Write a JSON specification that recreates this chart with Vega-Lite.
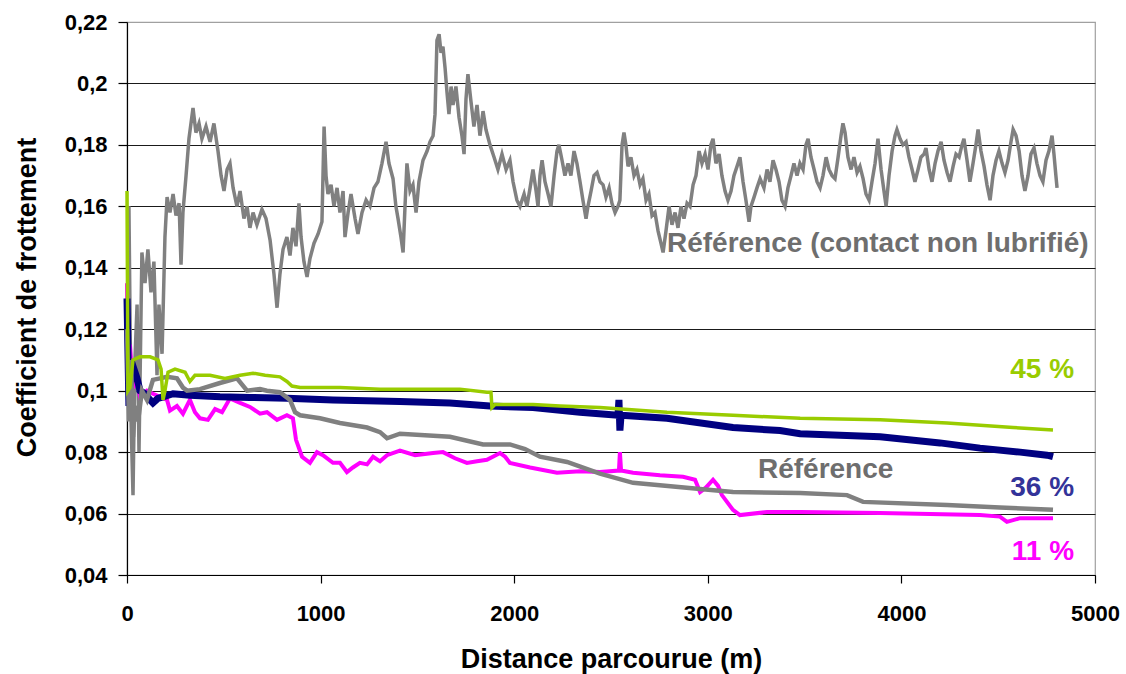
{
  "$schema": "https://vega.github.io/schema/vega-lite/v6.json",
  "width": 968,
  "height": 553,
  "autosize": {"type": "none"},
  "padding": {"left": 127, "top": 22, "right": 31, "bottom": 99},
  "background": "white",
  "config": {
    "view": {"stroke": "#a0a0a0", "strokeWidth": 1.2},
    "font": "Liberation Sans"
  },
  "datasets": {
    "labels": [
      {"s": "u", "d": 2789, "v": 0.1451, "t": "Référence (contact non lubrifié)", "a": "left"},
      {"s": "r", "d": 3259, "v": 0.0716, "t": "Référence", "a": "left"},
      {"s": "g", "d": 4892, "v": 0.1041, "t": "45 %", "a": "right"},
      {"s": "n", "d": 4892, "v": 0.0657, "t": "36 %", "a": "right"},
      {"s": "m", "d": 4892, "v": 0.0449, "t": "11 %", "a": "right"}
    ],
    "lines": [
      {"s":"u","d":0,"v":0.150},{"s":"u","d":5,"v":0.105},{"s":"u","d":10,"v":0.160},{"s":"u","d":21,"v":0.090},{"s":"u","d":31,"v":0.066},{"s":"u","d":41,"v":0.110},{"s":"u","d":52,"v":0.128},{"s":"u","d":62,"v":0.080},{"s":"u","d":77,"v":0.145},{"s":"u","d":93,"v":0.135},{"s":"u","d":108,"v":0.146},{"s":"u","d":124,"v":0.132},{"s":"u","d":139,"v":0.142},{"s":"u","d":155,"v":0.105},{"s":"u","d":165,"v":0.128},{"s":"u","d":181,"v":0.112},{"s":"u","d":196,"v":0.150},{"s":"u","d":207,"v":0.163},{"s":"u","d":222,"v":0.158},{"s":"u","d":238,"v":0.164},{"s":"u","d":253,"v":0.157},{"s":"u","d":269,"v":0.161},{"s":"u","d":279,"v":0.141},{"s":"u","d":289,"v":0.158},{"s":"u","d":305,"v":0.170},{"s":"u","d":320,"v":0.182},{"s":"u","d":341,"v":0.192},{"s":"u","d":356,"v":0.184},{"s":"u","d":372,"v":0.187},{"s":"u","d":387,"v":0.182},{"s":"u","d":408,"v":0.186},{"s":"u","d":429,"v":0.181},{"s":"u","d":449,"v":0.187},{"s":"u","d":470,"v":0.178},{"s":"u","d":486,"v":0.170},{"s":"u","d":501,"v":0.165},{"s":"u","d":517,"v":0.172},{"s":"u","d":532,"v":0.174},{"s":"u","d":548,"v":0.166},{"s":"u","d":568,"v":0.160},{"s":"u","d":584,"v":0.165},{"s":"u","d":604,"v":0.156},{"s":"u","d":620,"v":0.160},{"s":"u","d":635,"v":0.153},{"s":"u","d":651,"v":0.158},{"s":"u","d":671,"v":0.154},{"s":"u","d":697,"v":0.159},{"s":"u","d":718,"v":0.156},{"s":"u","d":739,"v":0.149},{"s":"u","d":759,"v":0.138},{"s":"u","d":775,"v":0.127},{"s":"u","d":790,"v":0.138},{"s":"u","d":806,"v":0.146},{"s":"u","d":826,"v":0.150},{"s":"u","d":842,"v":0.144},{"s":"u","d":857,"v":0.153},{"s":"u","d":873,"v":0.147},{"s":"u","d":888,"v":0.161},{"s":"u","d":899,"v":0.150},{"s":"u","d":914,"v":0.142},{"s":"u","d":930,"v":0.137},{"s":"u","d":945,"v":0.143},{"s":"u","d":966,"v":0.148},{"s":"u","d":987,"v":0.151},{"s":"u","d":1007,"v":0.155},{"s":"u","d":1018,"v":0.186},{"s":"u","d":1028,"v":0.170},{"s":"u","d":1038,"v":0.164},{"s":"u","d":1054,"v":0.167},{"s":"u","d":1069,"v":0.160},{"s":"u","d":1085,"v":0.166},{"s":"u","d":1100,"v":0.158},{"s":"u","d":1116,"v":0.165},{"s":"u","d":1126,"v":0.150},{"s":"u","d":1142,"v":0.158},{"s":"u","d":1157,"v":0.164},{"s":"u","d":1178,"v":0.156},{"s":"u","d":1193,"v":0.151},{"s":"u","d":1214,"v":0.158},{"s":"u","d":1235,"v":0.162},{"s":"u","d":1255,"v":0.160},{"s":"u","d":1276,"v":0.166},{"s":"u","d":1296,"v":0.168},{"s":"u","d":1317,"v":0.174},{"s":"u","d":1338,"v":0.181},{"s":"u","d":1353,"v":0.174},{"s":"u","d":1374,"v":0.169},{"s":"u","d":1389,"v":0.160},{"s":"u","d":1400,"v":0.156},{"s":"u","d":1415,"v":0.150},{"s":"u","d":1426,"v":0.145},{"s":"u","d":1436,"v":0.160},{"s":"u","d":1446,"v":0.174},{"s":"u","d":1462,"v":0.165},{"s":"u","d":1477,"v":0.167},{"s":"u","d":1493,"v":0.158},{"s":"u","d":1508,"v":0.168},{"s":"u","d":1529,"v":0.175},{"s":"u","d":1550,"v":0.178},{"s":"u","d":1565,"v":0.181},{"s":"u","d":1581,"v":0.183},{"s":"u","d":1591,"v":0.190},{"s":"u","d":1601,"v":0.214},{"s":"u","d":1612,"v":0.216},{"s":"u","d":1622,"v":0.210},{"s":"u","d":1632,"v":0.212},{"s":"u","d":1643,"v":0.205},{"s":"u","d":1653,"v":0.197},{"s":"u","d":1663,"v":0.190},{"s":"u","d":1674,"v":0.199},{"s":"u","d":1684,"v":0.193},{"s":"u","d":1699,"v":0.199},{"s":"u","d":1715,"v":0.189},{"s":"u","d":1730,"v":0.183},{"s":"u","d":1741,"v":0.177},{"s":"u","d":1751,"v":0.195},{"s":"u","d":1761,"v":0.203},{"s":"u","d":1777,"v":0.194},{"s":"u","d":1792,"v":0.186},{"s":"u","d":1808,"v":0.193},{"s":"u","d":1823,"v":0.183},{"s":"u","d":1839,"v":0.191},{"s":"u","d":1854,"v":0.185},{"s":"u","d":1875,"v":0.180},{"s":"u","d":1896,"v":0.176},{"s":"u","d":1916,"v":0.172},{"s":"u","d":1937,"v":0.177},{"s":"u","d":1958,"v":0.172},{"s":"u","d":1978,"v":0.175},{"s":"u","d":1994,"v":0.168},{"s":"u","d":2014,"v":0.162},{"s":"u","d":2030,"v":0.160},{"s":"u","d":2051,"v":0.164},{"s":"u","d":2066,"v":0.160},{"s":"u","d":2082,"v":0.166},{"s":"u","d":2097,"v":0.172},{"s":"u","d":2113,"v":0.165},{"s":"u","d":2123,"v":0.160},{"s":"u","d":2133,"v":0.170},{"s":"u","d":2144,"v":0.175},{"s":"u","d":2159,"v":0.168},{"s":"u","d":2175,"v":0.164},{"s":"u","d":2190,"v":0.160},{"s":"u","d":2206,"v":0.170},{"s":"u","d":2221,"v":0.178},{"s":"u","d":2231,"v":0.180},{"s":"u","d":2247,"v":0.175},{"s":"u","d":2262,"v":0.170},{"s":"u","d":2278,"v":0.174},{"s":"u","d":2293,"v":0.170},{"s":"u","d":2309,"v":0.178},{"s":"u","d":2324,"v":0.174},{"s":"u","d":2340,"v":0.168},{"s":"u","d":2355,"v":0.162},{"s":"u","d":2371,"v":0.156},{"s":"u","d":2381,"v":0.160},{"s":"u","d":2397,"v":0.165},{"s":"u","d":2412,"v":0.170},{"s":"u","d":2428,"v":0.171},{"s":"u","d":2443,"v":0.168},{"s":"u","d":2459,"v":0.167},{"s":"u","d":2474,"v":0.163},{"s":"u","d":2490,"v":0.166},{"s":"u","d":2505,"v":0.161},{"s":"u","d":2521,"v":0.158},{"s":"u","d":2536,"v":0.160},{"s":"u","d":2546,"v":0.162},{"s":"u","d":2557,"v":0.180},{"s":"u","d":2567,"v":0.184},{"s":"u","d":2577,"v":0.180},{"s":"u","d":2588,"v":0.173},{"s":"u","d":2603,"v":0.176},{"s":"u","d":2619,"v":0.170},{"s":"u","d":2634,"v":0.172},{"s":"u","d":2650,"v":0.167},{"s":"u","d":2665,"v":0.169},{"s":"u","d":2681,"v":0.162},{"s":"u","d":2696,"v":0.164},{"s":"u","d":2712,"v":0.157},{"s":"u","d":2727,"v":0.158},{"s":"u","d":2743,"v":0.152},{"s":"u","d":2758,"v":0.148},{"s":"u","d":2769,"v":0.145},{"s":"u","d":2784,"v":0.152},{"s":"u","d":2800,"v":0.160},{"s":"u","d":2815,"v":0.154},{"s":"u","d":2831,"v":0.158},{"s":"u","d":2846,"v":0.153},{"s":"u","d":2862,"v":0.160},{"s":"u","d":2877,"v":0.156},{"s":"u","d":2893,"v":0.161},{"s":"u","d":2908,"v":0.160},{"s":"u","d":2924,"v":0.167},{"s":"u","d":2939,"v":0.170},{"s":"u","d":2955,"v":0.178},{"s":"u","d":2970,"v":0.174},{"s":"u","d":2986,"v":0.177},{"s":"u","d":3001,"v":0.172},{"s":"u","d":3016,"v":0.180},{"s":"u","d":3027,"v":0.182},{"s":"u","d":3042,"v":0.174},{"s":"u","d":3058,"v":0.177},{"s":"u","d":3073,"v":0.170},{"s":"u","d":3089,"v":0.165},{"s":"u","d":3104,"v":0.162},{"s":"u","d":3120,"v":0.165},{"s":"u","d":3135,"v":0.170},{"s":"u","d":3151,"v":0.173},{"s":"u","d":3166,"v":0.176},{"s":"u","d":3182,"v":0.168},{"s":"u","d":3197,"v":0.162},{"s":"u","d":3213,"v":0.155},{"s":"u","d":3223,"v":0.160},{"s":"u","d":3239,"v":0.163},{"s":"u","d":3254,"v":0.166},{"s":"u","d":3270,"v":0.169},{"s":"u","d":3290,"v":0.166},{"s":"u","d":3306,"v":0.172},{"s":"u","d":3321,"v":0.168},{"s":"u","d":3337,"v":0.175},{"s":"u","d":3352,"v":0.172},{"s":"u","d":3368,"v":0.168},{"s":"u","d":3383,"v":0.162},{"s":"u","d":3399,"v":0.160},{"s":"u","d":3414,"v":0.166},{"s":"u","d":3430,"v":0.170},{"s":"u","d":3445,"v":0.174},{"s":"u","d":3461,"v":0.170},{"s":"u","d":3476,"v":0.174},{"s":"u","d":3492,"v":0.172},{"s":"u","d":3507,"v":0.180},{"s":"u","d":3518,"v":0.182},{"s":"u","d":3533,"v":0.176},{"s":"u","d":3549,"v":0.172},{"s":"u","d":3564,"v":0.168},{"s":"u","d":3580,"v":0.166},{"s":"u","d":3595,"v":0.170},{"s":"u","d":3611,"v":0.176},{"s":"u","d":3626,"v":0.172},{"s":"u","d":3642,"v":0.170},{"s":"u","d":3657,"v":0.169},{"s":"u","d":3673,"v":0.176},{"s":"u","d":3688,"v":0.183},{"s":"u","d":3698,"v":0.187},{"s":"u","d":3709,"v":0.184},{"s":"u","d":3724,"v":0.176},{"s":"u","d":3740,"v":0.172},{"s":"u","d":3755,"v":0.176},{"s":"u","d":3771,"v":0.171},{"s":"u","d":3786,"v":0.173},{"s":"u","d":3802,"v":0.169},{"s":"u","d":3817,"v":0.164},{"s":"u","d":3833,"v":0.162},{"s":"u","d":3848,"v":0.168},{"s":"u","d":3864,"v":0.174},{"s":"u","d":3879,"v":0.182},{"s":"u","d":3895,"v":0.172},{"s":"u","d":3910,"v":0.165},{"s":"u","d":3921,"v":0.160},{"s":"u","d":3936,"v":0.170},{"s":"u","d":3952,"v":0.178},{"s":"u","d":3967,"v":0.183},{"s":"u","d":3977,"v":0.185},{"s":"u","d":3993,"v":0.182},{"s":"u","d":4008,"v":0.180},{"s":"u","d":4024,"v":0.181},{"s":"u","d":4039,"v":0.176},{"s":"u","d":4055,"v":0.172},{"s":"u","d":4070,"v":0.168},{"s":"u","d":4086,"v":0.172},{"s":"u","d":4101,"v":0.176},{"s":"u","d":4117,"v":0.177},{"s":"u","d":4127,"v":0.179},{"s":"u","d":4143,"v":0.172},{"s":"u","d":4158,"v":0.168},{"s":"u","d":4174,"v":0.174},{"s":"u","d":4189,"v":0.178},{"s":"u","d":4205,"v":0.181},{"s":"u","d":4220,"v":0.175},{"s":"u","d":4236,"v":0.171},{"s":"u","d":4251,"v":0.168},{"s":"u","d":4267,"v":0.173},{"s":"u","d":4282,"v":0.177},{"s":"u","d":4298,"v":0.176},{"s":"u","d":4313,"v":0.180},{"s":"u","d":4323,"v":0.182},{"s":"u","d":4339,"v":0.175},{"s":"u","d":4354,"v":0.168},{"s":"u","d":4370,"v":0.174},{"s":"u","d":4385,"v":0.180},{"s":"u","d":4396,"v":0.185},{"s":"u","d":4411,"v":0.178},{"s":"u","d":4427,"v":0.173},{"s":"u","d":4442,"v":0.167},{"s":"u","d":4458,"v":0.162},{"s":"u","d":4473,"v":0.170},{"s":"u","d":4489,"v":0.175},{"s":"u","d":4504,"v":0.178},{"s":"u","d":4520,"v":0.174},{"s":"u","d":4535,"v":0.171},{"s":"u","d":4551,"v":0.175},{"s":"u","d":4566,"v":0.181},{"s":"u","d":4577,"v":0.185},{"s":"u","d":4592,"v":0.183},{"s":"u","d":4608,"v":0.178},{"s":"u","d":4623,"v":0.170},{"s":"u","d":4638,"v":0.165},{"s":"u","d":4654,"v":0.170},{"s":"u","d":4669,"v":0.177},{"s":"u","d":4685,"v":0.179},{"s":"u","d":4700,"v":0.174},{"s":"u","d":4716,"v":0.170},{"s":"u","d":4731,"v":0.168},{"s":"u","d":4747,"v":0.175},{"s":"u","d":4762,"v":0.178},{"s":"u","d":4778,"v":0.183},{"s":"u","d":4788,"v":0.177},{"s":"u","d":4798,"v":0.170},{"s":"u","d":4804,"v":0.166},

      {"s":"m","d":0,"v":0.135},{"s":"m","d":5,"v":0.105},{"s":"m","d":15,"v":0.115},{"s":"m","d":31,"v":0.101},{"s":"m","d":52,"v":0.103},{"s":"m","d":67,"v":0.098},{"s":"m","d":103,"v":0.100},{"s":"m","d":134,"v":0.099},{"s":"m","d":170,"v":0.098},{"s":"m","d":207,"v":0.097},{"s":"m","d":222,"v":0.0935},{"s":"m","d":258,"v":0.095},{"s":"m","d":289,"v":0.0925},{"s":"m","d":325,"v":0.097},{"s":"m","d":351,"v":0.093},{"s":"m","d":377,"v":0.091},{"s":"m","d":418,"v":0.0905},{"s":"m","d":455,"v":0.094},{"s":"m","d":491,"v":0.093},{"s":"m","d":532,"v":0.0975},{"s":"m","d":584,"v":0.096},{"s":"m","d":635,"v":0.0947},{"s":"m","d":687,"v":0.0925},{"s":"m","d":723,"v":0.093},{"s":"m","d":775,"v":0.0905},{"s":"m","d":826,"v":0.092},{"s":"m","d":857,"v":0.091},{"s":"m","d":873,"v":0.084},{"s":"m","d":904,"v":0.0785},{"s":"m","d":945,"v":0.0765},{"s":"m","d":981,"v":0.080},{"s":"m","d":1012,"v":0.079},{"s":"m","d":1064,"v":0.0765},{"s":"m","d":1100,"v":0.0765},{"s":"m","d":1136,"v":0.0735},{"s":"m","d":1167,"v":0.075},{"s":"m","d":1203,"v":0.0765},{"s":"m","d":1240,"v":0.076},{"s":"m","d":1271,"v":0.0785},{"s":"m","d":1307,"v":0.077},{"s":"m","d":1343,"v":0.079},{"s":"m","d":1410,"v":0.0805},{"s":"m","d":1488,"v":0.079},{"s":"m","d":1581,"v":0.0797},{"s":"m","d":1632,"v":0.080},{"s":"m","d":1694,"v":0.078},{"s":"m","d":1756,"v":0.0765},{"s":"m","d":1808,"v":0.077},{"s":"m","d":1859,"v":0.0775},{"s":"m","d":1927,"v":0.0797},{"s":"m","d":1953,"v":0.0785},{"s":"m","d":1978,"v":0.0765},{"s":"m","d":2082,"v":0.075},{"s":"m","d":2221,"v":0.0733},{"s":"m","d":2340,"v":0.0738},{"s":"m","d":2443,"v":0.0735},{"s":"m","d":2541,"v":0.074},{"s":"m","d":2546,"v":0.080},{"s":"m","d":2552,"v":0.074},{"s":"m","d":2614,"v":0.0733},{"s":"m","d":2753,"v":0.0725},{"s":"m","d":2872,"v":0.072},{"s":"m","d":2934,"v":0.071},{"s":"m","d":2960,"v":0.067},{"s":"m","d":2991,"v":0.0685},{"s":"m","d":3027,"v":0.071},{"s":"m","d":3053,"v":0.069},{"s":"m","d":3073,"v":0.066},{"s":"m","d":3130,"v":0.0612},{"s":"m","d":3166,"v":0.0595},{"s":"m","d":3306,"v":0.0605},{"s":"m","d":3477,"v":0.0605},{"s":"m","d":3890,"v":0.0602},{"s":"m","d":4406,"v":0.0595},{"s":"m","d":4509,"v":0.059},{"s":"m","d":4545,"v":0.0573},{"s":"m","d":4613,"v":0.0585},{"s":"m","d":4783,"v":0.0585},

      {"s":"n","d":0,"v":0.13},{"s":"n","d":10,"v":0.095},{"s":"n","d":21,"v":0.105},{"s":"n","d":36,"v":0.107},{"s":"n","d":52,"v":0.104},{"s":"n","d":67,"v":0.100},{"s":"n","d":93,"v":0.099},{"s":"n","d":119,"v":0.097},{"s":"n","d":134,"v":0.096},{"s":"n","d":160,"v":0.0975},{"s":"n","d":186,"v":0.098},{"s":"n","d":238,"v":0.099},{"s":"n","d":325,"v":0.0985},{"s":"n","d":480,"v":0.098},{"s":"n","d":635,"v":0.0978},{"s":"n","d":826,"v":0.0975},{"s":"n","d":1064,"v":0.097},{"s":"n","d":1410,"v":0.0965},{"s":"n","d":1668,"v":0.096},{"s":"n","d":1875,"v":0.095},{"s":"n","d":2097,"v":0.0945},{"s":"n","d":2340,"v":0.093},{"s":"n","d":2536,"v":0.092},{"s":"n","d":2541,"v":0.097},{"s":"n","d":2546,"v":0.087},{"s":"n","d":2552,"v":0.092},{"s":"n","d":2789,"v":0.091},{"s":"n","d":3130,"v":0.088},{"s":"n","d":3373,"v":0.087},{"s":"n","d":3477,"v":0.086},{"s":"n","d":3890,"v":0.085},{"s":"n","d":4199,"v":0.083},{"s":"n","d":4406,"v":0.0813},{"s":"n","d":4613,"v":0.080},{"s":"n","d":4752,"v":0.079},{"s":"n","d":4783,"v":0.0785},

      {"s":"r","d":0,"v":0.12},{"s":"r","d":10,"v":0.09},{"s":"r","d":21,"v":0.11},{"s":"r","d":31,"v":0.085},{"s":"r","d":41,"v":0.095},{"s":"r","d":57,"v":0.09},{"s":"r","d":77,"v":0.10},{"s":"r","d":103,"v":0.097},{"s":"r","d":134,"v":0.1035},{"s":"r","d":170,"v":0.104},{"s":"r","d":207,"v":0.1045},{"s":"r","d":258,"v":0.104},{"s":"r","d":289,"v":0.101},{"s":"r","d":310,"v":0.100},{"s":"r","d":377,"v":0.1005},{"s":"r","d":480,"v":0.1025},{"s":"r","d":568,"v":0.104},{"s":"r","d":620,"v":0.100},{"s":"r","d":687,"v":0.1005},{"s":"r","d":723,"v":0.100},{"s":"r","d":790,"v":0.0995},{"s":"r","d":842,"v":0.097},{"s":"r","d":868,"v":0.093},{"s":"r","d":894,"v":0.092},{"s":"r","d":997,"v":0.091},{"s":"r","d":1100,"v":0.0895},{"s":"r","d":1240,"v":0.088},{"s":"r","d":1307,"v":0.0865},{"s":"r","d":1343,"v":0.0845},{"s":"r","d":1410,"v":0.086},{"s":"r","d":1668,"v":0.085},{"s":"r","d":1839,"v":0.0825},{"s":"r","d":1978,"v":0.0825},{"s":"r","d":2056,"v":0.081},{"s":"r","d":2133,"v":0.0785},{"s":"r","d":2273,"v":0.0768},{"s":"r","d":2443,"v":0.073},{"s":"r","d":2614,"v":0.070},{"s":"r","d":2960,"v":0.068},{"s":"r","d":3130,"v":0.067},{"s":"r","d":3477,"v":0.0667},{"s":"r","d":3719,"v":0.066},{"s":"r","d":3802,"v":0.0638},{"s":"r","d":4236,"v":0.0628},{"s":"r","d":4509,"v":0.062},{"s":"r","d":4783,"v":0.0612},

      {"s":"g","d":0,"v":0.165},{"s":"g","d":5,"v":0.100},{"s":"g","d":15,"v":0.101},{"s":"g","d":31,"v":0.110},{"s":"g","d":67,"v":0.111},{"s":"g","d":119,"v":0.111},{"s":"g","d":160,"v":0.110},{"s":"g","d":176,"v":0.107},{"s":"g","d":186,"v":0.097},{"s":"g","d":196,"v":0.100},{"s":"g","d":212,"v":0.106},{"s":"g","d":248,"v":0.107},{"s":"g","d":300,"v":0.106},{"s":"g","d":325,"v":0.103},{"s":"g","d":351,"v":0.105},{"s":"g","d":429,"v":0.105},{"s":"g","d":506,"v":0.104},{"s":"g","d":584,"v":0.105},{"s":"g","d":651,"v":0.1057},{"s":"g","d":713,"v":0.105},{"s":"g","d":790,"v":0.1045},{"s":"g","d":826,"v":0.103},{"s":"g","d":852,"v":0.1015},{"s":"g","d":894,"v":0.101},{"s":"g","d":1100,"v":0.101},{"s":"g","d":1307,"v":0.1005},{"s":"g","d":1513,"v":0.1005},{"s":"g","d":1720,"v":0.1005},{"s":"g","d":1859,"v":0.0995},{"s":"g","d":1880,"v":0.0995},{"s":"g","d":1885,"v":0.0945},{"s":"g","d":1901,"v":0.0955},{"s":"g","d":2097,"v":0.0955},{"s":"g","d":2237,"v":0.095},{"s":"g","d":2443,"v":0.0945},{"s":"g","d":2789,"v":0.093},{"s":"g","d":3130,"v":0.092},{"s":"g","d":3477,"v":0.091},{"s":"g","d":3890,"v":0.0905},{"s":"g","d":4236,"v":0.0895},{"s":"g","d":4577,"v":0.088},{"s":"g","d":4783,"v":0.0872}
    ]
  },
  "encoding": {
    "x": {
      "field": "d", "type": "quantitative",
      "scale": {"domain": [0, 5000], "nice": false, "zero": false},
      "axis": {
        "values": [0, 1000, 2000, 3000, 4000, 5000],
        "format": "d",
        "grid": false,
        "domainColor": "#000", "domainWidth": 1.2,
        "tickColor": "#000", "tickSize": 8, "tickWidth": 1.2,
        "labelFont": "Liberation Sans", "labelFontWeight": "bold", "labelFontSize": 22, "labelColor": "#000",
        "labelPadding": 20, "labelFlush": false,
        "title": "Distance parcourue (m)",
        "titleFont": "Liberation Sans", "titleFontWeight": "bold", "titleFontSize": 27, "titleColor": "#000",
        "titleX": 484, "titleY": 92, "titleBaseline": "alphabetic", "titleAlign": "center"
      }
    },
    "y": {
      "field": "v", "type": "quantitative",
      "scale": {"domain": [0.04, 0.22], "nice": false, "zero": false},
      "axis": {
        "values": [0.04, 0.06, 0.08, 0.1, 0.12, 0.14, 0.16, 0.18, 0.2, 0.22],
        "labelExpr": "replace(format(datum.value, '.2~f'), '.', ',')",
        "grid": true,
        "gridColor": {"condition": {"test": "datum.value > 0.219", "value": "#a0a0a0"}, "value": "#1a1a1a"},
        "gridWidth": 1.2,
        "domainColor": "#000", "domainWidth": 1.2,
        "tickColor": "#000", "tickSize": 9, "tickWidth": 1.2,
        "labelFont": "Liberation Sans", "labelFontWeight": "bold", "labelFontSize": 22, "labelColor": "#000",
        "labelPadding": 11, "labelFlush": false,
        "title": "Coefficient de frottement",
        "titleFont": "Liberation Sans", "titleFontWeight": "bold", "titleFontSize": 27, "titleColor": "#000",
        "titleX": -92, "titleY": 275, "titleBaseline": "alphabetic", "titleAlign": "center", "titleAngle": 270
      }
    }
  },
  "layer": [
    {"data": {"name": "lines"}, "transform": [{"filter": "datum.s === 'u'"}], "mark": {"type": "line", "color": "#808080", "strokeWidth": 3.5, "clip": true}},
    {"data": {"name": "lines"}, "transform": [{"filter": "datum.s === 'm'"}], "mark": {"type": "line", "color": "#ff00ff", "strokeWidth": 4}},
    {"data": {"name": "lines"}, "transform": [{"filter": "datum.s === 'n'"}], "mark": {"type": "line", "color": "#000080", "strokeWidth": 7}},
    {"data": {"name": "lines"}, "transform": [{"filter": "datum.s === 'r'"}], "mark": {"type": "line", "color": "#808080", "strokeWidth": 4.5}},
    {"data": {"name": "lines"}, "transform": [{"filter": "datum.s === 'g'"}], "mark": {"type": "line", "color": "#99cc00", "strokeWidth": 3.5}},
    {
      "data": {"name": "labels"},
      "transform": [{"filter": "datum.a === 'left'"}],
      "mark": {"type": "text", "font": "Liberation Sans", "fontWeight": "bold", "fontSize": 28, "baseline": "alphabetic", "align": "left"},
      "encoding": {
        "text": {"field": "t"},
        "color": {
          "field": "s", "type": "nominal",
          "scale": {"domain": ["u", "r", "g", "n", "m"], "range": ["#6e6e6e", "#6e6e6e", "#99cc00", "#333399", "#ff00ff"]},
          "legend": null
        }
      }
    },
    {
      "data": {"name": "labels"},
      "transform": [{"filter": "datum.a === 'right'"}],
      "mark": {"type": "text", "font": "Liberation Sans", "fontWeight": "bold", "fontSize": 28, "baseline": "alphabetic", "align": "right"},
      "encoding": {
        "text": {"field": "t"},
        "color": {
          "field": "s", "type": "nominal",
          "scale": {"domain": ["u", "r", "g", "n", "m"], "range": ["#6e6e6e", "#6e6e6e", "#99cc00", "#333399", "#ff00ff"]},
          "legend": null
        }
      }
    }
  ]
}
